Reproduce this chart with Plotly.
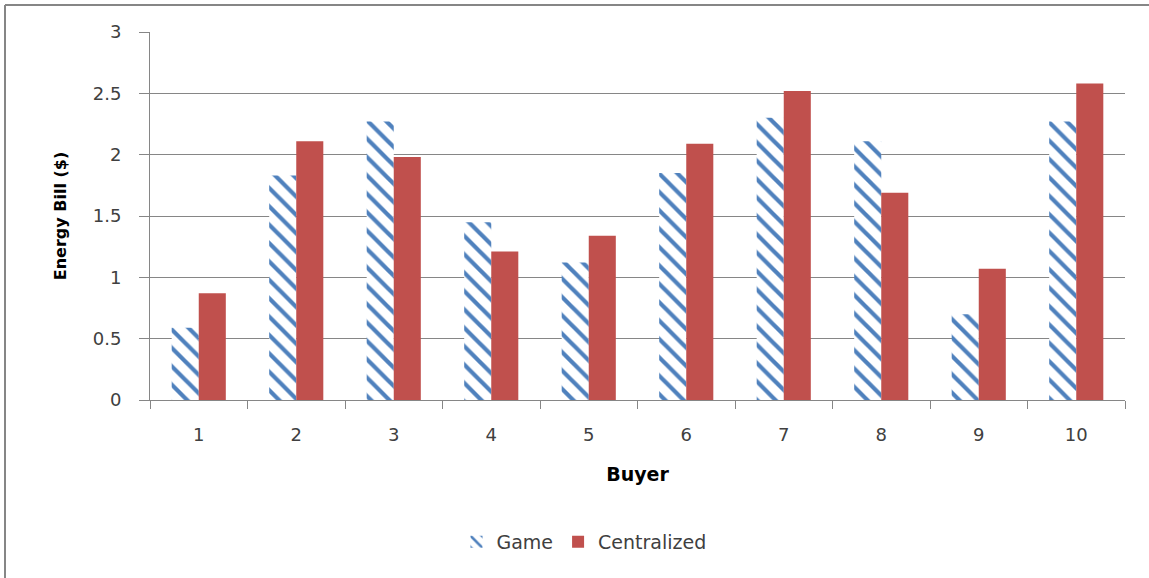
import plotly.graph_objects as go

buyers = ["1", "2", "3", "4", "5", "6", "7", "8", "9", "10"]
game = [0.59, 1.83, 2.27, 1.45, 1.12, 1.85, 2.30, 2.11, 0.70, 2.27]
centralized = [0.87, 2.11, 1.98, 1.21, 1.34, 2.09, 2.52, 1.69, 1.07, 2.58]

W, H = 1149, 578
# target plot area in page pixels: x 150..1125, y 32..400
L, R, T, B = 150, 1149 - 1125, 32, 578 - 400
pw, ph = W - L - R, H - T - B

def px_x(x):
    return (x - L) / pw

def px_y(y):
    return (H - B - y) / ph

fig = go.Figure()
fig.add_trace(go.Bar(
    x=buyers, y=game, name="Game",
    marker=dict(color="white", line=dict(width=0),
                pattern=dict(shape="\\", fgcolor="#4F81BD", bgcolor="white",
                             fgopacity=1, size=13, solidity=0.32, fillmode="replace")),
))
fig.add_trace(go.Bar(
    x=buyers, y=centralized, name="Centralized",
    marker=dict(color="#C0504D", line=dict(width=0)),
))

font_family = "DejaVu Sans, Verdana, sans-serif"

fig.update_layout(
    width=W, height=H,
    margin=dict(l=L, r=R, t=T, b=B, autoexpand=False),
    paper_bgcolor="white", plot_bgcolor="white",
    barmode="group", bargap=0.445, bargroupgap=0,
    font=dict(family=font_family, size=17, color="#404040"),
    showlegend=True,
    legend=dict(orientation="h", x=px_x(584), xanchor="center",
                y=px_y(542), yanchor="middle",
                font=dict(size=19, color="#404040"),
                itemwidth=30, tracegroupgap=0),
    xaxis=dict(
        type="category", tickson="boundaries",
        showline=True, linecolor="#868686", linewidth=1,
        ticks="outside", ticklen=8, tickcolor="#868686",
        showgrid=False, tickfont=dict(size=18, color="#404040"),
        ticklabelstandoff=18,
        title=dict(text="<b>Buyer</b>", font=dict(size=19, color="black"), standoff=24),
    ),
    yaxis=dict(
        range=[0, 3], dtick=0.5, tick0=0,
        showline=True, linecolor="#868686", linewidth=1,
        ticks="outside", ticklen=10, tickcolor="#868686",
        showgrid=True, gridcolor="#868686", gridwidth=1,
        zeroline=False,
        tickfont=dict(size=18, color="#404040"),
        ticklabelstandoff=14,
        title=dict(text="<b>Energy Bill ($)</b>", font=dict(size=16, color="black"), standoff=22),
    ),
    shapes=[
        dict(type="line", xref="paper", yref="paper",
             x0=px_x(5), x1=px_x(5), y0=px_y(600), y1=px_y(5),
             line=dict(color="#868686", width=2), layer="below"),
        dict(type="line", xref="paper", yref="paper",
             x0=px_x(5), x1=px_x(1160), y0=px_y(5), y1=px_y(5),
             line=dict(color="#868686", width=2), layer="below"),
    ],
)

fig.write_html("out.html", config={"displayModeBar": False},
               post_script="document.body.style.margin='0';document.body.style.overflow='hidden';")
